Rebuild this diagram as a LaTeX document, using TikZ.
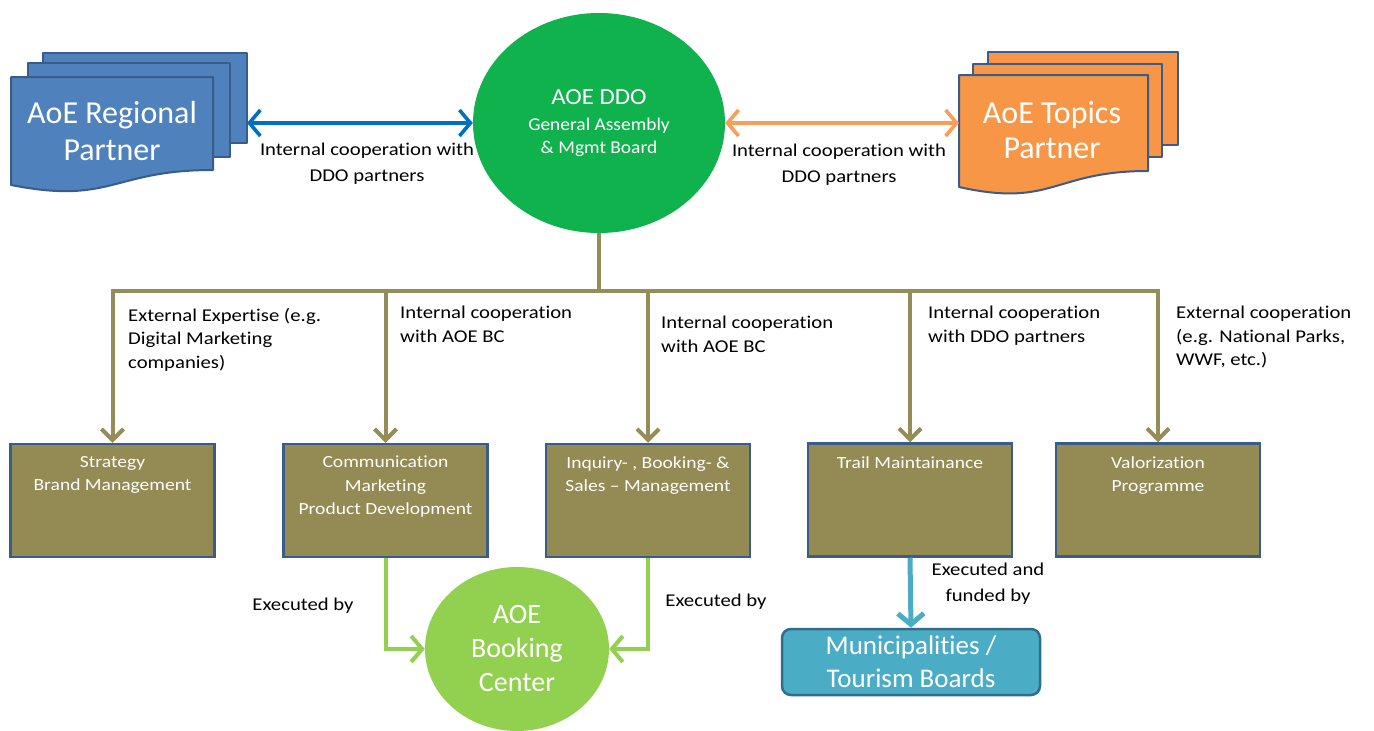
\documentclass[tikz,border=0pt]{standalone}
\usepackage{fontspec}
\setmainfont{Carlito}[Ligatures=NoCommon]
\newfontfamily\lblfont{Carlito}[FakeStretch=1.15, Ligatures=NoCommon]
\newfontfamily\ddofont{Carlito}[FakeStretch=1.08, Ligatures=NoCommon]
\usetikzlibrary{arrows.meta,shapes.geometric}
\definecolor{bordblue}{RGB}{56,93,138}
\definecolor{docblue}{RGB}{79,129,189}
\definecolor{docorange}{RGB}{247,150,70}
\definecolor{arrblue}{RGB}{0,112,192}
\definecolor{arrorange}{RGB}{248,158,90}
\definecolor{topgreen}{RGB}{16,178,78}
\definecolor{bcgreen}{RGB}{146,208,80}
\definecolor{olv}{RGB}{148,138,84}
\definecolor{olvline}{RGB}{150,140,88}
\definecolor{cyanblue}{RGB}{75,172,198}
\definecolor{munborder}{RGB}{49,110,140}
\tikzset{
  doc/.style={draw=bordblue, line width=2pt, line join=round},
  box/.style={draw=bordblue, line width=2.5pt, fill=olv, minimum width=204pt, minimum height=113pt, inner sep=0pt},
  boxtxt/.style={text=white, font=\lblfont\fontsize{17}{23.5}\selectfont, align=center, anchor=north, inner sep=0pt},
  lbl/.style={font=\lblfont\fontsize{18}{23.5}\selectfont, align=left, anchor=north west, inner sep=0pt},
  clbl/.style={font=\lblfont\fontsize{18}{25.5}\selectfont, align=center, inner sep=0pt},
  oline/.style={draw=olvline, line width=4pt},
  oarrow/.style={oline, -{Straight Barb[length=11pt,width=22pt]}},
  barrow/.style={draw=arrblue, line width=3.6pt, {Straight Barb[length=11pt,width=26pt]}-{Straight Barb[length=11pt,width=26pt]}},
  orarrow/.style={draw=arrorange, line width=3.6pt, {Straight Barb[length=11pt,width=26pt]}-{Straight Barb[length=11pt,width=26pt]}},
  garrow/.style={draw=bcgreen, line width=4pt, -{Straight Barb[length=11pt,width=26pt]}},
  carrow/.style={draw=cyanblue, line width=5pt, -{Straight Barb[length=11pt,width=26pt]}},
}
\begin{document}
\begin{tikzpicture}[x=1pt, y=-1pt]
\useasboundingbox (0,0) rectangle (1374,731);
\fill[white] (0,0) rectangle (1374,731);

% ---------- AoE Regional Partner (stacked documents)
\filldraw[doc, fill=docblue] (43,53) rectangle (247,143);
\filldraw[doc, fill=docblue] (28,63) rectangle (230,157);
\filldraw[doc, fill=docblue] (11,77) -- (213,77) -- (213,170)
   .. controls (112,170) and (112,205) .. (11,185) -- cycle;
\node[text=white, font=\fontsize{32}{37}\selectfont, align=center] (reg) at (112,131) {AoE Regional\\Partner};
\coordinate (regR) at (247,123);

% ---------- AoE Topics Partner
\filldraw[doc, fill=docorange] (988,52) rectangle (1178,145);
\filldraw[doc, fill=docorange] (973,64) rectangle (1162,157);
\filldraw[doc, fill=docorange] (959,75) -- (1148,75) -- (1148,171)
   .. controls (1053,171) and (1053,208) .. (959,187) -- cycle;
\node[text=white, font=\fontsize{32}{35}\selectfont, align=center] (top2) at (1052,130) {AoE Topics\\Partner};
\coordinate (topL) at (959,123);

% ---------- AOE DDO circle
\node[ellipse, fill=topgreen, minimum width=252pt, minimum height=220pt, inner sep=0pt,
      text=white, align=center, font=\ddofont\fontsize{18}{23}\selectfont] (ddo) at (599,123)
  {{\fontsize{23}{23}\selectfont AOE DDO}\\[3pt]
   General Assembly\\
   \& Mgmt Board};

\draw[barrow] (regR) -- (ddo.west);
\draw[orarrow] (ddo.east) -- (topL);
\node[clbl, anchor=north] (lblA) at (367,143) {Internal cooperation with\\DDO partners};
\node[clbl, anchor=north] (lblB) at (839,144) {Internal cooperation with\\DDO partners};

% ---------- boxes
\node[box] (b1) at (112.5,500.5) {};
\node[box] (b2) at (385.5,500.5) {};
\node[box] (b3) at (648,500.5) {};
\node[box] (b4) at (910,500) {};
\node[box] (b5) at (1158,500) {};

\node[boxtxt] (t1) at (112.5,456) {Strategy\\Brand Management};
\node[boxtxt] (t2) at (385.5,456) {Communication\\Marketing\\Product Development};
\node[boxtxt] (t3) at (648,456) {Inquiry- , Booking- \&\\Sales \textendash{} Management};
\node[boxtxt] (t4) at (910,456) {Trail Maintainance};
\node[boxtxt] (t5) at (1158,456) {Valorization\\Programme};

% ---------- bus
\coordinate (bus) at (599,291);
\draw[oline] (ddo.south) -- (bus);
\draw[oarrow] (bus) -| (b1.north);
\draw[oarrow] (bus) -| (b2.north);
\draw[oarrow] (bus) -| (b3.north);
\draw[oarrow] (bus) -| (b4.north);
\draw[oarrow] (bus) -| (b5.north);

\node[lbl] (l1) at (128,308) {External Expertise (e.g.\\Digital Marketing\\companies)};
\node[lbl] (l2) at (400,306) {Internal cooperation\\with AOE BC};
\node[lbl] (l3) at (661,316) {Internal cooperation\\with AOE BC};
\node[lbl] (l4) at (928,306) {Internal cooperation\\with DDO partners};
\node[lbl] (l5) at (1176,306) {External cooperation\\(e.g. National Parks,\\WWF, etc.)};

% ---------- AOE Booking Center
\node[ellipse, fill=bcgreen, minimum width=184pt, minimum height=164pt, inner sep=0pt,
      text=white, align=center, font=\fontsize{28}{34}\selectfont] (bc) at (517,649)
  {AOE\\Booking\\Center};
\draw[garrow] (b2.south) |- (bc.west);
\draw[garrow] (b3.south) |- (bc.east);
\node[clbl] (e1) at (303,606) {Executed by};
\node[clbl] (e2) at (716,602) {Executed by};

% ---------- Municipalities
\node[draw=munborder, line width=2.5pt, fill=cyanblue, rounded corners=9pt,
      minimum width=258pt, minimum height=66pt, inner sep=0pt,
      text=white, align=center, font=\fontsize{27}{33}\selectfont] (mun) at (911,662)
  {Municipalities /\\Tourism Boards};
\draw[carrow] (b4.south) -- (mun.north);
\node[clbl, anchor=north] (e3) at (988,563) {Executed and\\funded by};
\end{tikzpicture}
\end{document}
